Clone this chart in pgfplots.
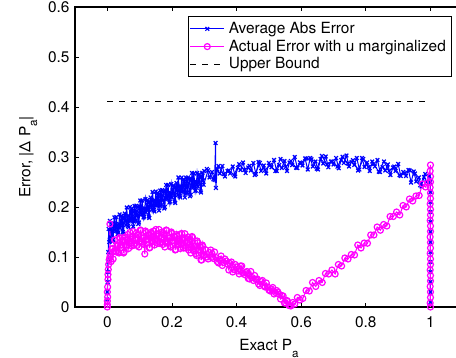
\documentclass[border=0pt]{standalone}
\usepackage{pgfplots}
\pgfplotsset{compat=1.18}
\usepackage{fontspec}
\setmainfont{TeX Gyre Heros}
\definecolor{mblue}{RGB}{0,0,255}
\definecolor{mmag}{RGB}{255,0,255}
\newcommand{\suba}{\raisebox{-0.45em}{\fontsize{5.8}{6}\selectfont a}}
\begin{document}
\fontsize{7.7}{9}\selectfont
\begin{tikzpicture}
\begin{axis}[
  scale only axis,
  width=193.9pt, height=150pt,
  xmin=-0.1, xmax=1.1, ymin=0, ymax=0.6,
  xtick={0,0.2,0.4,0.6,0.8,1},
  ytick={0,0.1,0.2,0.3,0.4,0.5,0.6},
  /pgf/number format/assume math mode=true,
  tick align=inside,
  major tick length=2pt,
  axis line style={line width=0.7pt},
  every tick/.style={black, line width=0.4pt},
  xticklabel style={yshift=-2pt},
  xlabel style={yshift=-0.5pt},
  xlabel={Exact P\suba},
  ylabel={Error, |Δ P\suba|},
  clip=false,
  legend style={at={(0.972,0.97)}, anchor=north east, draw=black, line width=0.5pt,
    fill=white, font=\fontsize{7.7}{9}\selectfont, row sep=-1.9pt, inner sep=0.8pt},
  legend cell align=left,
  bl/.style={color=mblue, line width=0.5pt, mark=x, mark size=1.3pt, mark options={line width=0.6pt}},
  mg/.style={color=mmag, line width=0.5pt, mark=o, mark size=1.5pt, mark options={line width=0.6pt}},
]
\coordinate (bl) at (rel axis cs:0,0);
\coordinate (tr) at (rel axis cs:1,1);
\addplot[bl] coordinates {
(0,0.015)(0,0.03)(0.001,0.05)(0.001,0.07)(0.002,0.09)(0.003,0.11)(0.004,0.156)(0.006,0.13)(0.008,0.134)(0.008,0.172)(0.009,0.14)(0.012,0.156)(0.016,0.131)(0.020,0.167)(0.024,0.154)(0.028,0.180)(0.032,0.146)(0.036,0.166)(0.040,0.158)(0.044,0.1825)(0.048,0.150)(0.052,0.179)(0.056,0.172)(0.060,0.199)(0.064,0.162)(0.068,0.182)(0.072,0.172)(0.076,0.197)(0.080,0.161)(0.084,0.202)(0.088,0.173)(0.092,0.192)(0.096,0.166)(0.100,0.201)(0.104,0.188)(0.108,0.213)(0.112,0.179)(0.116,0.197)(0.120,0.189)(0.124,0.214)(0.128,0.181)(0.132,0.210)(0.136,0.203)(0.140,0.230)(0.144,0.194)(0.148,0.213)(0.152,0.203)(0.156,0.228)(0.160,0.193)(0.164,0.233)(0.168,0.204)(0.172,0.223)(0.176,0.197)(0.180,0.232)(0.184,0.218)(0.188,0.244)(0.192,0.209)(0.196,0.228)(0.200,0.219)(0.204,0.243)(0.208,0.211)(0.212,0.240)(0.216,0.233)(0.220,0.259)(0.224,0.222)(0.228,0.241)(0.232,0.2305)(0.236,0.255)(0.240,0.219)(0.244,0.2585)(0.248,0.2295)(0.252,0.248)(0.256,0.2215)(0.260,0.256)(0.264,0.242)(0.268,0.267)(0.272,0.232)(0.276,0.250)(0.280,0.241)(0.284,0.265)(0.288,0.232)(0.292,0.2605)(0.296,0.253)(0.300,0.272)
(0.308,0.276)(0.316,0.259)(0.324,0.270)(0.332,0.254)(0.335,0.328)(0.336,0.238)(0.340,0.2755)(0.348,0.267)(0.356,0.282)(0.364,0.261)(0.372,0.272)(0.380,0.267)(0.388,0.281)(0.396,0.261)(0.404,0.2785)(0.412,0.274)(0.420,0.289)(0.428,0.268)(0.436,0.279)(0.444,0.273)(0.452,0.288)(0.460,0.266)(0.468,0.290)(0.476,0.272)(0.484,0.283)(0.492,0.267)(0.500,0.288)(0.508,0.2795)(0.516,0.294)(0.524,0.272)(0.532,0.284)(0.540,0.278)(0.548,0.292)(0.556,0.272)(0.564,0.289)(0.572,0.284)(0.580,0.300)(0.588,0.278)(0.596,0.289)(0.604,0.283)(0.612,0.297)(0.620,0.275)(0.628,0.298)(0.636,0.281)(0.644,0.291)(0.652,0.275)(0.660,0.296)(0.668,0.287)(0.676,0.301)(0.684,0.2795)(0.692,0.291)(0.700,0.285)(0.708,0.298)(0.716,0.2775)(0.724,0.294)(0.732,0.288)(0.740,0.303)(0.748,0.281)(0.756,0.290)(0.764,0.284)(0.772,0.298)(0.780,0.275)(0.788,0.298)(0.796,0.280)(0.804,0.289)(0.812,0.272)(0.820,0.291)(0.828,0.281)(0.836,0.294)(0.844,0.270)(0.852,0.280)(0.860,0.273)(0.868,0.285)(0.876,0.264)(0.884,0.279)(0.892,0.272)(0.900,0.286)(0.908,0.262)(0.916,0.270)(0.924,0.262)(0.932,0.274)(0.940,0.249)(0.948,0.271)(0.956,0.251)(0.964,0.259)(0.972,0.241)(0.980,0.260)(0.988,0.250)(0.996,0.262)
(1,0.25)(1,0.23)(1,0.21)(1,0.19)(1,0.17)(1,0.15)(1,0.13)(1,0.11)(1,0.09)(1,0.07)(1,0.05)(1,0.03)(1,0.01)
};
\addlegendentry{Average Abs Error}
\addplot[bl, forget plot] coordinates {
(0.014,0.165)(0.018,0.1345)(0.022,0.179)(0.026,0.152)(0.030,0.164)(0.034,0.149)(0.038,0.185)(0.042,0.165)(0.046,0.178)(0.050,0.147)(0.054,0.187)(0.058,0.164)(0.062,0.180)(0.066,0.1595)(0.070,0.200)(0.074,0.174)(0.078,0.193)(0.082,0.171)(0.086,0.186)(0.090,0.2025)(0.094,0.200)(0.098,0.169)(0.102,0.213)(0.106,0.185)(0.110,0.1965)(0.114,0.181)(0.118,0.216)(0.122,0.196)(0.126,0.209)(0.130,0.178)(0.134,0.219)(0.138,0.195)(0.142,0.212)(0.146,0.191)(0.150,0.231)(0.154,0.205)(0.158,0.2245)(0.162,0.202)(0.166,0.217)(0.170,0.234)(0.174,0.231)(0.178,0.200)(0.182,0.244)(0.186,0.216)(0.190,0.227)(0.194,0.211)(0.198,0.246)(0.202,0.226)(0.206,0.239)(0.210,0.208)(0.214,0.248)(0.218,0.224)(0.222,0.2405)(0.226,0.219)(0.230,0.259)(0.234,0.232)(0.238,0.251)(0.242,0.228)(0.246,0.243)(0.250,0.259)(0.254,0.256)(0.258,0.2245)(0.262,0.268)(0.266,0.239)(0.270,0.250)(0.274,0.2335)(0.278,0.268)(0.282,0.248)(0.286,0.260)(0.290,0.229)(0.294,0.2685)(0.298,0.2445)
(0.312,0.2735)(0.328,0.2554)(0.344,0.282)(0.360,0.2657)(0.376,0.273)(0.392,0.264)(0.408,0.2857)(0.424,0.274)(0.440,0.2824)(0.456,0.264)(0.472,0.288)(0.488,0.274)(0.504,0.284)(0.520,0.272)(0.536,0.296)(0.552,0.280)(0.568,0.292)(0.584,0.2785)(0.600,0.288)(0.616,0.297)(0.632,0.2955)(0.648,0.2764)(0.664,0.302)(0.680,0.285)(0.696,0.291)(0.712,0.2806)(0.728,0.3005)(0.744,0.287)(0.760,0.2935)(0.776,0.273)(0.792,0.296)(0.808,0.280)(0.824,0.286)(0.840,0.2705)(0.856,0.291)(0.872,0.272)(0.888,0.281)(0.904,0.2635)(0.920,0.268)(0.936,0.273)(0.952,0.267)(0.968,0.2435)(0.984,0.266)
};
\addplot[mg] coordinates {
(0,0)(0,0.005)(0,0.012)(0.001,0.02)(0,0.03)(0.001,0.04)(0.002,0.055)(0.002,0.065)(0.003,0.075)(0.004,0.085)(0.006,0.095)(0.008,0.1)(0.008,0.166)(0.009,0.105)
(0.012,0.091)(0.016,0.117)(0.020,0.111)(0.024,0.134)(0.028,0.110)(0.032,0.123)(0.036,0.108)(0.040,0.137)(0.044,0.125)(0.048,0.133)(0.052,0.110)(0.056,0.139)(0.060,0.124)(0.064,0.145)(0.068,0.1285)(0.072,0.136)(0.076,0.122)(0.080,0.151)(0.084,0.127)(0.088,0.135)(0.092,0.123)(0.096,0.1435)(0.100,0.132)(0.104,0.153)(0.108,0.127)(0.112,0.1385)(0.116,0.106)(0.120,0.149)(0.124,0.136)(0.128,0.143)(0.132,0.119)(0.136,0.147)(0.140,0.1316)(0.144,0.152)(0.148,0.135)(0.152,0.142)(0.156,0.127)(0.160,0.155)(0.164,0.130)(0.168,0.138)(0.172,0.125)(0.176,0.144)(0.180,0.132)(0.184,0.153)(0.188,0.127)(0.192,0.1375)(0.196,0.120)(0.200,0.147)(0.204,0.133)(0.208,0.140)(0.212,0.115)(0.216,0.142)(0.220,0.126)(0.224,0.145)(0.228,0.1275)(0.232,0.134)(0.236,0.118)(0.240,0.1466)(0.244,0.121)(0.248,0.128)(0.252,0.114)(0.256,0.133)(0.260,0.1195)(0.264,0.139)(0.268,0.112)(0.272,0.121)(0.276,0.103)(0.280,0.1285)(0.284,0.114)(0.288,0.120)(0.292,0.094)(0.296,0.121)(0.300,0.104)
(0.308,0.100)(0.316,0.109)(0.324,0.0996)(0.332,0.110)(0.340,0.091)(0.348,0.095)(0.356,0.083)(0.364,0.096)(0.372,0.086)(0.380,0.087)(0.388,0.070)(0.396,0.085)(0.404,0.072)(0.412,0.082)(0.420,0.068)(0.428,0.069)(0.436,0.057)(0.444,0.071)(0.452,0.053)(0.460,0.055)(0.468,0.046)(0.476,0.051)(0.484,0.043)(0.492,0.048)(0.500,0.034)(0.508,0.036)(0.516,0.026)(0.524,0.033)(0.532,0.025)(0.540,0.023)(0.548,0.008)(0.556,0.013)(0.562,0.003)(0.568,0.002)(0.574,0.009)(0.580,0.006)(0.588,0.019)(0.596,0.014)
(0.605,0.017)(0.615,0.033)(0.625,0.032)(0.635,0.049)(0.645,0.041)(0.655,0.053)(0.665,0.049)(0.675,0.067)(0.685,0.066)(0.695,0.074)(0.705,0.066)(0.715,0.085)(0.725,0.082)(0.735,0.098)(0.745,0.096)(0.755,0.105)(0.765,0.104)(0.775,0.124)(0.785,0.118)(0.795,0.128)(0.805,0.1275)(0.815,0.144)(0.825,0.144)(0.835,0.160)(0.845,0.1535)(0.855,0.165)(0.865,0.162)(0.875,0.181)(0.885,0.181)(0.895,0.190)(0.905,0.184)(0.915,0.203)(0.925,0.200)(0.935,0.216)(0.945,0.212)(0.955,0.222)(0.965,0.223)(0.975,0.246)(0.985,0.240)(0.993,0.249)
(1,0.284)(0.999,0.272)(1,0.261)(1,0.25)(0.999,0.239)(1,0.228)(1,0.217)(0.999,0.206)(1,0.195)(1,0.184)(0.999,0.173)(1,0.162)(1,0.151)(0.999,0.14)(1,0.129)(1,0.118)(0.999,0.107)(1,0.096)(1,0.085)(0.999,0.074)(1,0.063)(1,0.052)(0.999,0.041)(1,0.03)(1,0.019)(0.999,0.008)(1,0)
};
\addlegendentry{Actual Error with u marginalized}
\addplot[mg, forget plot] coordinates {
(0.014,0.116)(0.018,0.096)(0.022,0.134)(0.026,0.112)(0.030,0.122)(0.034,0.110)(0.038,0.139)(0.042,0.1235)(0.046,0.133)(0.050,0.108)(0.054,0.140)(0.058,0.121)(0.062,0.134)(0.066,0.117)(0.070,0.149)(0.074,0.1275)(0.078,0.142)(0.082,0.1236)(0.086,0.135)(0.090,0.148)(0.094,0.145)(0.098,0.120)(0.102,0.154)(0.106,0.130)(0.110,0.138)(0.114,0.125)(0.118,0.152)(0.122,0.135)(0.126,0.144)(0.130,0.118)(0.134,0.149)(0.138,0.1295)(0.142,0.142)(0.146,0.124)(0.150,0.155)(0.154,0.133)(0.158,0.1465)(0.162,0.127)(0.166,0.138)(0.170,0.150)(0.174,0.147)(0.178,0.120)(0.182,0.154)(0.186,0.130)(0.190,0.138)(0.194,0.123)(0.198,0.150)(0.202,0.133)(0.206,0.141)(0.210,0.114)(0.214,0.145)(0.218,0.124)(0.222,0.1355)(0.226,0.117)(0.230,0.147)(0.234,0.1246)(0.238,0.138)(0.242,0.118)(0.246,0.1286)(0.250,0.140)(0.254,0.1356)(0.258,0.108)(0.262,0.141)(0.266,0.115)(0.270,0.122)(0.274,0.1066)(0.278,0.132)(0.282,0.114)(0.286,0.121)(0.290,0.094)(0.294,0.124)(0.298,0.1025)
(0.304,0.1145)(0.312,0.096)(0.320,0.114)(0.328,0.097)(0.336,0.099)(0.344,0.088)(0.352,0.102)(0.360,0.089)(0.368,0.092)(0.376,0.074)(0.384,0.090)(0.392,0.075)(0.400,0.080)(0.408,0.066)(0.416,0.082)(0.424,0.065)(0.432,0.071)(0.440,0.056)(0.448,0.059)(0.456,0.063)(0.464,0.056)(0.472,0.043)(0.480,0.053)(0.488,0.040)(0.496,0.040)(0.504,0.032)(0.512,0.039)(0.520,0.029)(0.528,0.030)(0.536,0.016)(0.544,0.022)(0.552,0.008)(0.558,0.011)(0.565,0.003)
};
\addplot[black, dashed, line width=0.4pt, dash pattern=on 3pt off 3pt] coordinates {(0,0.412) (1,0.412)};
\addlegendentry{Upper Bound}
\end{axis}
\pgfresetboundingbox
\path[use as bounding box] ([xshift=-37.5pt,yshift=-25.5pt]bl) rectangle ([xshift=-3.4pt,yshift=3.5pt]tr);
\end{tikzpicture}
\end{document}
